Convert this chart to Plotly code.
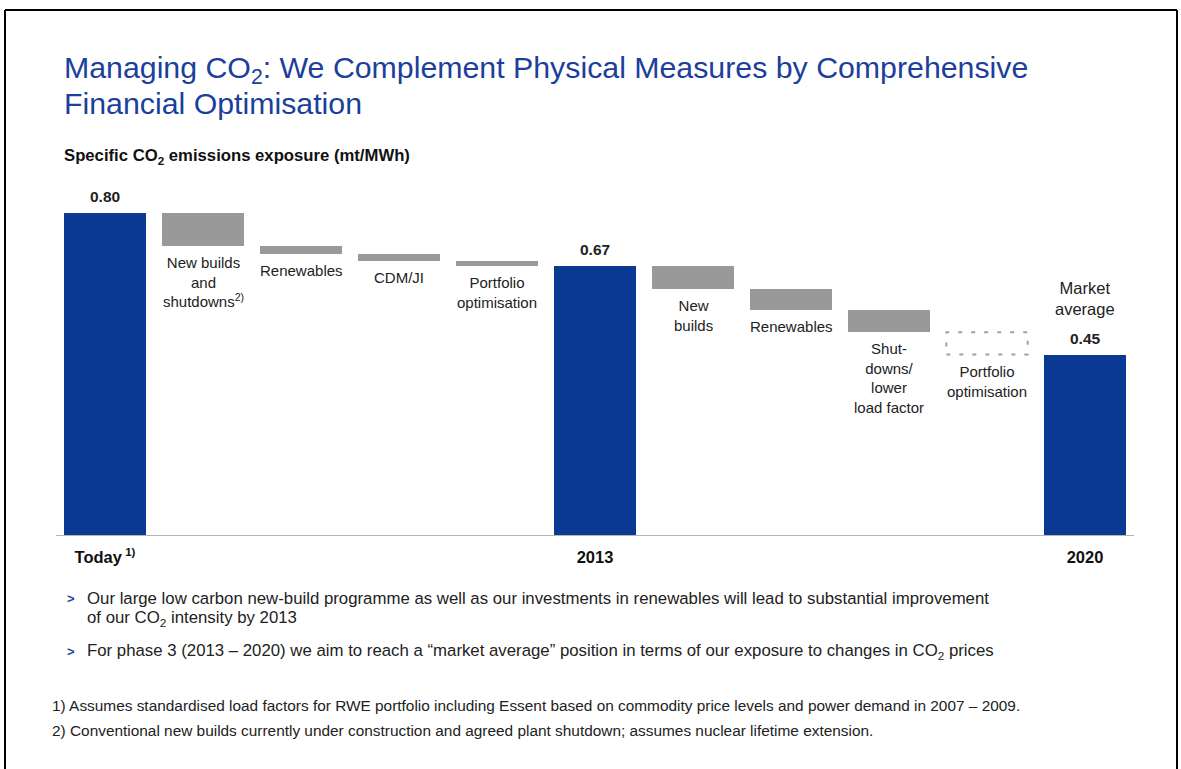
import plotly.graph_objects as go

# ---------------- data ----------------
categories = ["Today", "New builds and shutdowns", "Renewables", "CDM/JI", "Portfolio optimisation",
              "2013", "New builds", "Renewables", "Shut-downs/lower load factor",
              "Portfolio optimisation", "2020"]
measures = ["total", "relative", "relative", "relative", "relative",
            "total", "relative", "relative", "relative", "relative", "total"]
values = [0.80, -0.08, -0.02, -0.018, -0.012, 0.67, -0.057, -0.053, -0.055, -0.055, 0.45]
bar_labels = ["", "New builds<br>and<br>shutdowns<sup>2)</sup>", "Renewables", "CDM/JI",
              "Portfolio<br>optimisation", "", "New<br>builds", "Renewables",
              "Shut-<br>downs/<br>lower<br>load factor", "Portfolio<br>optimisation", ""]
value_labels = ["0.80", "", "", "", "", "0.67", "", "", "", "", "0.45"]
tick_labels = {0: "Today<sup> 1)</sup>", 5: "2013", 10: "2020"}
dashed_flags = [False] * 9 + [True, False]

# ---------------- layout geometry ----------------
W, H = 1181, 769
PW, PH = 1078, 363
L, T = 56, 173
R, B = W - L - PW, H - T - PH
YMAX = 0.9
BW = 0.83

def px_x(p):
    return (p - L) / PW

def px_y(p):
    return (T + PH - p) / PH

BLUE = "#0b3a94"
GREY = "#999999"
TXT = "#222222"
FONT = "Liberation Sans, Arial, sans-serif"

# compute bases
bases, heights = [], []
level = 0.0
for m, v in zip(measures, values):
    if m == "total":
        bases.append(0.0)
        heights.append(v)
        level = v
    else:
        new = level + v
        bases.append(new)
        heights.append(-v)
        level = new

xs = list(range(len(categories)))
colors = [BLUE if m == "total" else GREY for m in measures]

fig = go.Figure()
solid_idx = [i for i in xs if not dashed_flags[i]]
fig.add_trace(go.Bar(
    x=[xs[i] for i in solid_idx],
    y=[heights[i] for i in solid_idx],
    base=[bases[i] for i in solid_idx],
    width=BW,
    marker=dict(color=[colors[i] for i in solid_idx], line=dict(width=0)),
    hoverinfo="skip",
    showlegend=False,
))

shapes = []
annotations = []

# dashed bar as outline shape (coordinates computed from data)
for i in xs:
    if dashed_flags[i]:
        shapes.append(dict(type="rect", xref="x", yref="y",
                           x0=xs[i] - BW / 2, x1=xs[i] + BW / 2,
                           y0=bases[i], y1=bases[i] + heights[i],
                           line=dict(color="#a0a0a0", width=2, dash="4px,9px"),
                           fillcolor="rgba(0,0,0,0)"))

# labels under change bars / value labels
for i in xs:
    if bar_labels[i]:
        annotations.append(dict(x=xs[i], y=bases[i], xref="x", yref="y",
                                text=bar_labels[i], showarrow=False,
                                xanchor="center", yanchor="top", yshift=-6,
                                font=dict(family=FONT, size=15, color=TXT),
                                align="center"))
    if value_labels[i]:
        annotations.append(dict(x=xs[i], y=bases[i] + heights[i], xref="x", yref="y",
                                text="<b>" + value_labels[i] + "</b>", showarrow=False,
                                xanchor="center", yanchor="bottom", yshift=6,
                                font=dict(family=FONT, size=15.5, color=TXT)))

# "Market average" above 2020
annotations.append(dict(x=xs[-1], y=bases[-1] + heights[-1], xref="x", yref="y",
                        text="Market<br>average", showarrow=False,
                        xanchor="center", yanchor="bottom", yshift=35,
                        font=dict(family=FONT, size=16.5, color=TXT)))

# title & subtitle
TITLE_C = "#1b3f9b"
annotations.append(dict(x=px_x(62), y=px_y(69), xref="paper", yref="paper",
                        text="Managing CO<sub>2</sub>: We Complement Physical Measures by Comprehensive",
                        showarrow=False, xanchor="left", yanchor="middle",
                        font=dict(family=FONT, size=30.3, color=TITLE_C)))
annotations.append(dict(x=px_x(62), y=px_y(104), xref="paper", yref="paper",
                        text="Financial Optimisation",
                        showarrow=False, xanchor="left", yanchor="middle",
                        font=dict(family=FONT, size=30.3, color=TITLE_C)))
annotations.append(dict(x=px_x(62), y=px_y(156), xref="paper", yref="paper",
                        text="<b>Specific CO<sub>2</sub> emissions exposure (mt/MWh)</b>",
                        showarrow=False, xanchor="left", yanchor="middle",
                        font=dict(family=FONT, size=16.7, color="#111111")))

# bullets
bullets = [
    (598, "Our large low carbon new-build programme as well as our investments in renewables will lead to substantial improvement", True),
    (618, "of our CO<sub>2</sub> intensity by 2013", False),
    (651, "For phase 3 (2013 \u2013 2020) we aim to reach a \u201cmarket average\u201d position in terms of our exposure to changes in CO<sub>2</sub> prices", True),
]
for yy, txt, mark in bullets:
    if mark:
        annotations.append(dict(x=px_x(65), y=px_y(yy), xref="paper", yref="paper",
                                text="<b>&gt;</b>", showarrow=False, xanchor="left", yanchor="middle",
                                font=dict(family=FONT, size=13, color=TITLE_C)))
    annotations.append(dict(x=px_x(85), y=px_y(yy), xref="paper", yref="paper",
                            text=txt, showarrow=False, xanchor="left", yanchor="middle",
                            font=dict(family=FONT, size=16.8, color=TXT)))

# footnotes
footnotes = [
    (705, "1) Assumes standardised load factors for RWE portfolio including Essent based on commodity price levels and power demand in 2007 \u2013 2009."),
    (730, "2) Conventional new builds currently under construction and agreed plant shutdown; assumes nuclear lifetime extension."),
]
for yy, txt in footnotes:
    annotations.append(dict(x=px_x(50), y=px_y(yy), xref="paper", yref="paper",
                            text=txt, showarrow=False, xanchor="left", yanchor="middle",
                            font=dict(family=FONT, size=15.4, color=TXT)))

# frame around slide
for x0, y0, x1, y1 in [(5, 10, 1177, 10), (5, 10, 5, 769), (1177, 10, 1177, 769)]:
    shapes.append(dict(type="line", xref="paper", yref="paper",
                       x0=px_x(x0), y0=px_y(y0), x1=px_x(x1), y1=px_y(y1),
                       line=dict(color="#000000", width=2)))

fig.update_layout(
    width=W, height=H,
    margin=dict(l=L, r=R, t=T, b=B, pad=0),
    paper_bgcolor="white", plot_bgcolor="white",
    shapes=shapes, annotations=annotations,
    bargap=0,
    xaxis=dict(range=[-0.5, len(categories) - 0.5], tickmode="array",
               tickvals=list(tick_labels.keys()),
               ticktext=["<b>" + t + "</b>" for t in tick_labels.values()],
               showgrid=False, zeroline=False, showline=False, ticks="",
               ticklabelstandoff=9,
               tickfont=dict(family=FONT, size=16.5, color="#111111"), fixedrange=True),
    yaxis=dict(range=[0, YMAX], visible=False, showgrid=False, zeroline=False, fixedrange=True),
    font=dict(family=FONT),
)
# baseline axis line
fig.add_shape(type="line", xref="paper", yref="y", x0=0, x1=1, y0=0, y1=0,
              line=dict(color="#b5b5b5", width=2))

fig.write_html(
    "out.html",
    config={"displayModeBar": False},
    post_script="document.body.style.margin='0';document.body.style.overflow='hidden';",
)
